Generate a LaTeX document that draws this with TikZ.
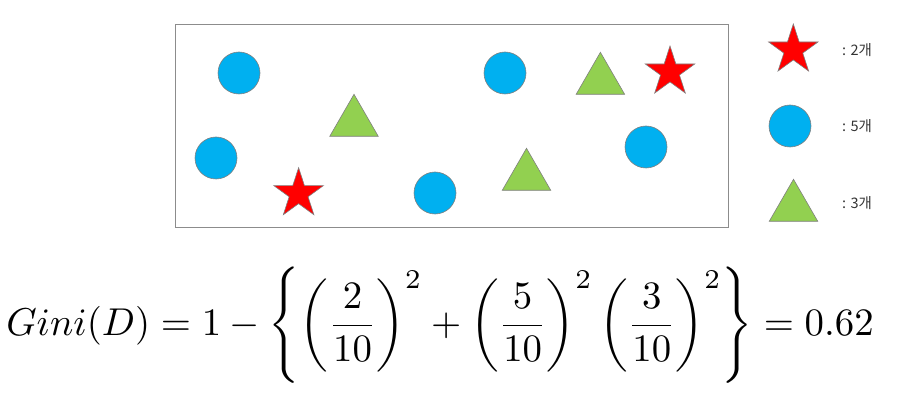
\documentclass[tikz,border=0pt]{standalone}
\usepackage{amsmath}
\usepackage{fontspec}
\usepackage{tikz}
\usetikzlibrary{shapes.geometric}
\newfontfamily\kofont{Noto Sans CJK KR}
\definecolor{ballblue}{HTML}{00B0F0}
\definecolor{trigreen}{HTML}{92D050}
\definecolor{edgegray}{HTML}{7F7F7F}

\begin{document}
\begin{tikzpicture}[x=1pt, y=-1pt,
    ball/.style = {circle, fill=ballblue, draw=edgegray, line width=0.6pt, minimum size=42pt, inner sep=0pt},
    tri/.style = {regular polygon, regular polygon sides=3, fill=trigreen, draw=edgegray, line width=0.6pt, minimum size=56pt, inner sep=0pt},
    starr/.style = {star, star points=5, star point ratio=2.618, fill=red, draw=edgegray, line width=0.6pt, minimum size=52pt, inner sep=0pt},
    count/.style = {anchor=west, inner sep=0pt, text=black!80, font=\kofont\fontsize{14.5}{16}\selectfont}]
                \useasboundingbox (0,0) rectangle (912,403);

                % Box with the data set D
                \draw[draw=black!45, line width=1.2pt] (175.5,24.5) rectangle (728.5,227.5);

                % Circles (5)
                \node[ball] (c1) at (239,73) {};
                \node[ball] (c2) at (216,158) {};
                \node[ball] (c3) at (435,193) {};
                \node[ball] (c4) at (505,73) {};
                \node[ball] (c5) at (646,147) {};

                % Triangles (3)
                \node[tri] (t1) at (354,122.3) {};
                \node[tri] (t2) at (526.5,176.3) {};
                \node[tri] (t3) at (600.4,80.3) {};

                % Stars (2)
                \node[starr] (s1) at (298.6,193.7) {};
                \node[starr] (s2) at (670,72) {};

                % Legend
                \node[starr] (ls) at (793.3,50) {};
                \node[ball] (lc) at (790,126) {};
                \node[tri] (lt) at (793.5,207.3) {};
                \node[count] (ns) at (842,50) {: 2개};
                \node[count] (nc) at (842,126) {: 5개};
                \node[count] (nt) at (842,203) {: 3개};

                % Gini index of D
                \node[scale=3.88, inner sep=0pt] (gini) at (440,325.5)
                    {$\displaystyle Gini(D) = 1 - \left\{ \left(\frac{2}{10}\right)^{2} + \left(\frac{5}{10}\right)^{2} \left(\frac{3}{10}\right)^{2} \right\} = 0.62$};
            \end{tikzpicture}
\end{document}
